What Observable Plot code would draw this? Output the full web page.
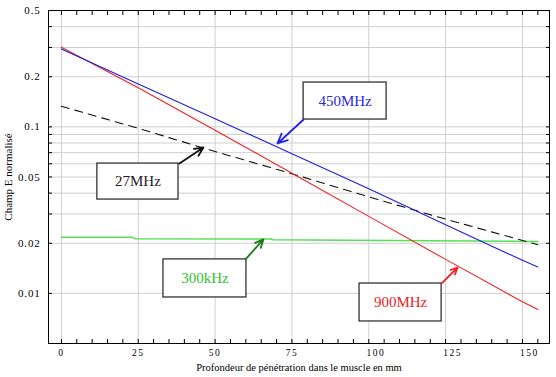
<!DOCTYPE html>
<html>
<head>
<meta charset="utf-8">
<script src="https://cdn.jsdelivr.net/npm/d3@7"></script>
<script src="https://cdn.jsdelivr.net/npm/@observablehq/plot@0.6"></script>
<style>
  html, body { margin: 0; padding: 0; background: white; }
  svg, svg text { font-family: "Liberation Serif", "Times New Roman", serif !important; }
</style>
</head>
<body>
<div id="chart"></div>
<script>
// ---- data ----
const depth = [0, 25, 50, 75, 100, 125, 150, 155];
const f450MHz = [0.294, 0.181, 0.112, 0.069, 0.0425, 0.0258, 0.0158, 0.0144];
const f900MHz = [0.301, 0.172, 0.0955, 0.0527, 0.029, 0.016, 0.0089, 0.0080];
const f27MHz  = [0.133, 0.098, 0.0711, 0.0523, 0.038, 0.0279, 0.0208, 0.0196];
const depth300k = [0, 23, 24, 68, 69, 155];
const f300kHz   = [0.0217, 0.0217, 0.0213, 0.0212, 0.021, 0.0205];

const xTickLabels = [0, 25, 50, 75, 100, 125, 150];
const xMinorTicks = d3.range(0, 160, 5);
const yTickLabels = [0.5, 0.2, 0.1, 0.05, 0.02, 0.01];
const yGridTicks = [0.4, 0.3, 0.2, 0.1, 0.09, 0.08, 0.07, 0.06, 0.05, 0.04, 0.03, 0.02, 0.01];

// annotations (data coordinates)
const annText  = ["450MHz", "27MHz", "300kHz", "900MHz"];
const annX1    = [78.8, 11.7, 33.2, 97.0];
const annX2    = [105.8, 38.1, 60.2, 123.7];
const annY1    = [0.1846, 0.0602, 0.0160, 0.01146];
const annY2    = [0.1107, 0.0366, 0.00945, 0.00678];
const arrowX1  = [78.8, 38.4, 59.9, 123.7];
const arrowY1  = [0.1107, 0.0602, 0.0160, 0.0115];
const arrowX2  = [70.3, 46.2, 65.7, 128.9];
const arrowY2  = [0.0795, 0.0752, 0.0211, 0.0143];

// ---- build tables ----
const seriesStyle = {
  "450MHz": {stroke: "#1f1fe0", dash: null, width: 1.1},
  "900MHz": {stroke: "#f02020", dash: null, width: 1.1},
  "27MHz":  {stroke: "#111111", dash: "8,6", width: 1.1},
  "300kHz": {stroke: "#55e055", dash: null, width: 1.5}
};
const rows = [];
depth.forEach((d, i) => {
  rows.push({s: "450MHz", x: d, y: f450MHz[i]});
  rows.push({s: "900MHz", x: d, y: f900MHz[i]});
  rows.push({s: "27MHz",  x: d, y: f27MHz[i]});
});
const rows300 = depth300k.map((d, i) => ({s: "300kHz", x: d, y: f300kHz[i]}));

const annColor = {"450MHz": "#2a2ad0", "27MHz": "#222222", "300kHz": "#33c033", "900MHz": "#ee2222"};
const arrowColor = {"450MHz": "#2222ee", "27MHz": "#111111", "300kHz": "#1b7a1b", "900MHz": "#ee2222"};
const ann = annText.map((t, i) => ({
  t, x1: annX1[i], x2: annX2[i], y1: annY1[i], y2: annY2[i],
  ax1: arrowX1[i], ay1: arrowY1[i], ax2: arrowX2[i], ay2: arrowY2[i]
}));

const lineMark = (data, key) => Plot.line(data.filter(r => r.s === key), {
  x: "x", y: "y", stroke: seriesStyle[key].stroke,
  strokeWidth: seriesStyle[key].width,
  strokeDasharray: seriesStyle[key].dash
});

const chart = Plot.plot({
  width: 556,
  height: 377,
  marginLeft: 48,
  marginRight: 7,
  marginTop: 10,
  marginBottom: 34,
  style: {fontSize: "11px", background: "white", color: "black"},
  x: {domain: [-4.2, 158.8]},
  y: {type: "log", domain: [0.005, 0.5]},
  marks: [
    Plot.gridY(yGridTicks, {stroke: "#cfcfcf", strokeOpacity: 1, strokeWidth: 1}),
    Plot.gridX(xTickLabels, {stroke: "#cfcfcf", strokeOpacity: 1, strokeWidth: 1}),
    // inward tick marks
    Plot.axisY(yGridTicks, {anchor: "left", tickSize: -4, tickFormat: () => "", label: null}),
    Plot.axisY(yGridTicks, {anchor: "right", tickSize: -4, tickFormat: () => "", label: null}),
    Plot.axisX(xMinorTicks, {anchor: "bottom", tickSize: -4, tickFormat: () => "", label: null}),
    Plot.axisX(xMinorTicks, {anchor: "top", tickSize: -4, tickFormat: () => "", label: null}),
    // labels
    Plot.axisY(yTickLabels, {anchor: "left", tickSize: 0, tickPadding: 8, tickFormat: d => String(d),
      label: "Champ E normalisé", labelAnchor: "center", labelArrow: "none", labelOffset: 44, fontSize: 11}),
    Plot.axisX(xTickLabels.filter(d => d < 100), {anchor: "bottom", tickSize: 0, tickPadding: 6, tickFormat: d => String(d),
      label: null, fontSize: 9.5}),
    Plot.axisX(xTickLabels.filter(d => d >= 100), {anchor: "bottom", tickSize: 0, tickPadding: 6, dx: 7, tickFormat: d => String(d),
      label: null, fontSize: 9.5}),
    Plot.axisX({anchor: "bottom", ticks: [], tickSize: 0,
      label: "Profondeur de pénétration dans le muscle en mm", labelAnchor: "center", labelArrow: "none", labelOffset: 27, fontSize: 10.5}),
    Plot.frame({stroke: "black", strokeWidth: 1}),
    // data lines
    lineMark(rows300, "300kHz"),
    lineMark(rows, "27MHz"),
    lineMark(rows, "900MHz"),
    lineMark(rows, "450MHz"),
    // annotation boxes
    Plot.rect(ann, {x1: "x1", x2: "x2", y1: "y1", y2: "y2", fill: "white", stroke: "#333", strokeWidth: 1.3}),
    Plot.text(ann, {x: d => (d.x1 + d.x2) / 2, y: d => Math.sqrt(d.y1 * d.y2), text: "t",
      fill: d => annColor[d.t], fontSize: 15}),
    Plot.arrow(ann, {x1: "ax1", y1: "ay1", x2: "ax2", y2: "ay2", stroke: d => arrowColor[d.t],
      strokeWidth: 1.8, headLength: 9, headAngle: 50})
  ]
});

document.getElementById("chart").appendChild(chart);
// letter spacing on tick labels
d3.select(chart).selectAll('g[aria-label="x-axis tick label"] text').attr("letter-spacing", "1.5");
d3.select(chart).selectAll('g[aria-label="y-axis tick label"] text').attr("letter-spacing", "0.8");
</script>
</body>
</html>
